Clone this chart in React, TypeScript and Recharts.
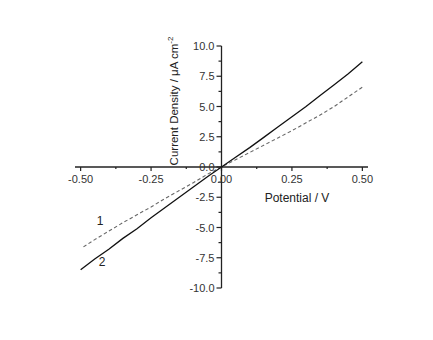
import React from 'react';
import { LineChart, Line, XAxis, YAxis, ReferenceLine, ReferenceDot, Customized } from 'recharts';

// potential (V) for both curves
const potential = [-0.5, -0.45, -0.4, -0.35, -0.3, -0.25, -0.2, -0.15, -0.1, -0.05, 0, 0.05, 0.1, 0.15, 0.2, 0.25, 0.3, 0.35, 0.4, 0.45, 0.5];
// curve 1 (dashed), starts a little after -0.50
const curve1 = [null, -6.0, -5.3, -4.6, -3.95, -3.3, -2.6, -1.95, -1.3, -0.6, 0, 0.6, 1.2, 1.8, 2.4, 3.0, 3.65, 4.3, 5.0, 5.8, 6.6];
const curve1Start = { x: -0.49, y: -6.6 };
// curve 2 (solid)
const curve2 = [-8.5, -7.6, -6.8, -5.9, -5.1, -4.2, -3.35, -2.5, -1.65, -0.8, 0, 0.8, 1.6, 2.45, 3.3, 4.15, 5.0, 5.9, 6.8, 7.7, 8.7];

const xMajor = [-0.5, -0.25, 0, 0.25, 0.5];
const xMinor = [-0.375, -0.125, 0.125, 0.375];
const xLabels = ['-0.50', '-0.25', '0.00', '0.25', '0.50'];
const yMajor = [-10, -7.5, -5, -2.5, 0, 2.5, 5, 7.5, 10];
const yMinor = [-8.75, -6.25, -3.75, -1.25, 1.25, 3.75, 6.25, 8.75];
const yLabels = ['-10.0', '-7.5', '-5.0', '-2.5', '0.0', '2.5', '5.0', '7.5', '10.0'];

const font = '"Liberation Sans", Arial, sans-serif';
const ink = '#222';

const chartData = [
  { x: curve1Start.x, c1: curve1Start.y, c2: null },
  ...potential.map((p, i) => ({ x: p, c1: curve1[i], c2: curve2[i] })),
].sort((a, b) => a.x - b.x);

const XTick = (label: string | null, len: number) => (props: any) => (
  <g>
    <line x1={props.cx} y1={props.cy} x2={props.cx} y2={props.cy + len} stroke={ink} strokeWidth={1.2} />
    {label && (
      <text x={props.cx} y={props.cy + 16} textAnchor="middle" fontSize={11} fill="#333" fontFamily={font}>{label}</text>
    )}
  </g>
);

const YTick = (label: string | null, len: number) => (props: any) => (
  <g>
    <line x1={props.cx} y1={props.cy} x2={props.cx - len} y2={props.cy} stroke={ink} strokeWidth={1.2} />
    {label && (
      <text x={props.cx - 7} y={props.cy + 4} textAnchor="end" fontSize={11} fill="#333" fontFamily={font}>{label}</text>
    )}
  </g>
);

const Titles = () => (
  <g fontFamily={font}>
    <text transform="translate(178,101) rotate(-90)" textAnchor="middle" fontSize={11.5} fill="#222">
      Current Density / μA cm<tspan dy={-5} fontSize={8}>-2</tspan>
    </text>
    <text x={297} y={202} textAnchor="middle" fontSize={12} fill="#222">Potential / V</text>
    <text x={100} y={225} textAnchor="middle" fontSize={12} fill="#222">1</text>
    <text x={102} y={266} textAnchor="middle" fontSize={12} fill="#222">2</text>
  </g>
);

export default function App() {
  return (
    <div style={{ position: 'absolute', left: 0, top: 0, background: '#fff' }}>
      <LineChart
        width={433}
        height={340}
        data={chartData}
        margin={{ top: 46, right: 65, left: 75, bottom: 52 }}
      >
        <XAxis type="number" dataKey="x" domain={[-0.52, 0.52]} hide allowDataOverflow />
        <YAxis type="number" domain={[-10, 10]} hide allowDataOverflow />

        <ReferenceLine segment={[{ x: -0.52, y: 0 }, { x: 0.52, y: 0 }]} stroke={ink} strokeWidth={1.3} ifOverflow="visible" />
        <ReferenceLine segment={[{ x: 0, y: -10 }, { x: 0, y: 10 }]} stroke={ink} strokeWidth={1.3} ifOverflow="visible" />

        {xMajor.map((v, i) => (
          <ReferenceDot key={'xm' + v} x={v} y={0} ifOverflow="visible" shape={XTick(xLabels[i], 4)} />
        ))}
        {xMinor.map((v) => (
          <ReferenceDot key={'xn' + v} x={v} y={0} ifOverflow="visible" shape={XTick(null, 2)} />
        ))}
        {yMajor.map((v, i) => (
          <ReferenceDot key={'ym' + v} x={0} y={v} ifOverflow="visible" shape={YTick(yLabels[i], 5)} />
        ))}
        {yMinor.map((v) => (
          <ReferenceDot key={'yn' + v} x={0} y={v} ifOverflow="visible" shape={YTick(null, 3)} />
        ))}

        <Line dataKey="c1" stroke="#666" strokeWidth={1.1} strokeDasharray="3.5 2.5" dot={false} connectNulls isAnimationActive={false} />
        <Line dataKey="c2" stroke="#111" strokeWidth={1.3} dot={false} connectNulls isAnimationActive={false} />

        <Customized component={Titles} />
      </LineChart>
    </div>
  );
}
